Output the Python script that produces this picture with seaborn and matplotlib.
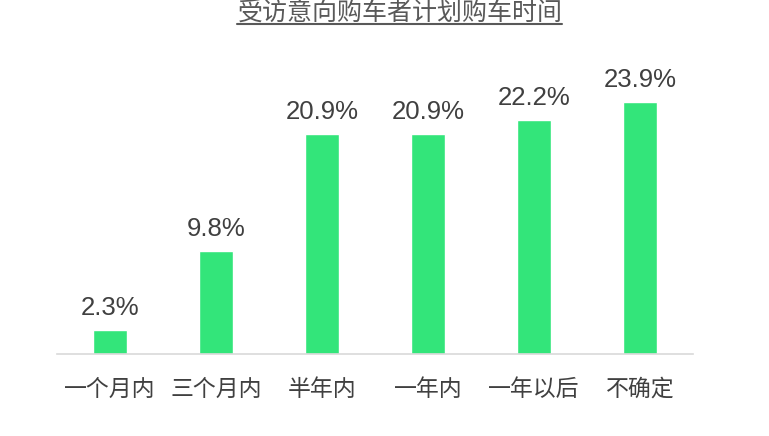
import matplotlib
matplotlib.use("Agg")
import matplotlib.pyplot as plt
import seaborn as sns
import pandas as pd
from matplotlib.lines import Line2D

categories = ["一个月内", "三个月内", "半年内", "一年内", "一年以后", "不确定"]
values = [2.3, 9.8, 20.9, 20.9, 22.2, 23.9]
value_labels = ["2.3%", "9.8%", "20.9%", "20.9%", "22.2%", "23.9%"]
title = "受访意向购车者计划购车时间"

sns.set_theme(style="white")
plt.rcParams['font.family'] = ['Noto Sans CJK SC', 'DejaVu Sans']

df = pd.DataFrame({"cat": categories, "val": values})

fig = plt.figure(figsize=(7.69, 4.36), dpi=100)
ax = fig.add_axes([57/769, (436-354)/436, 636/769, 295/436])
sns.barplot(data=df, x="cat", y="val", color="#33E57A", saturation=1,
            width=0.32, ax=ax)
ax.set_xlim(-0.5, 5.5)
ax.set_ylim(0, 28)
ax.set_xlabel("")
ax.set_ylabel("")
ax.set_yticks([])
for s in ["top", "right", "left"]:
    ax.spines[s].set_visible(False)
ax.spines["bottom"].set_color("#D9D9D9")
ax.spines["bottom"].set_linewidth(1.2)
ax.tick_params(axis="x", length=0, pad=17, labelsize=16.5, labelcolor="#404040")

for i, (v, lab) in enumerate(zip(values, value_labels)):
    ax.annotate(lab, (i, v), xytext=(0, 7), textcoords="offset points",
                ha="center", va="bottom", fontsize=18.5, color="#404040",
                family=["Liberation Sans", "DejaVu Sans"])

fig.text(400/769, 1 - 13/436, title, ha="center", va="center",
         fontsize=18, color="#595959")
fig.add_artist(Line2D([237/769, 562/769], [1 - 24/436, 1 - 24/436],
                      transform=fig.transFigure, color="#595959", linewidth=1.5))

fig.savefig("out.png", dpi=100)
